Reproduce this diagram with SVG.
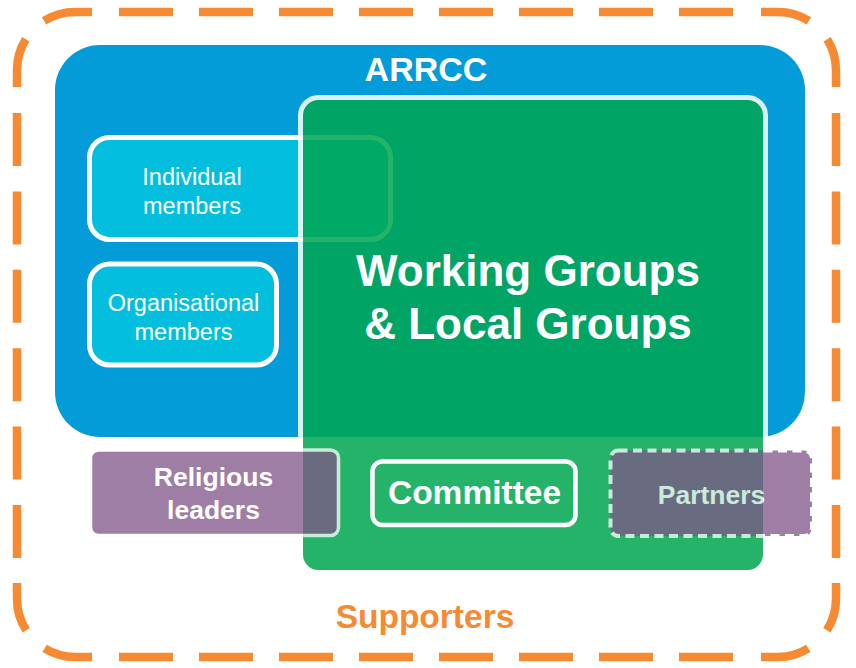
<svg xmlns="http://www.w3.org/2000/svg" width="856" height="668" viewBox="0 0 856 668">
<style>
.t{font-family:"Liberation Sans",Arial,sans-serif;fill:#ffffff;text-anchor:middle}
.b{font-weight:bold}
.orange{fill:none;stroke:#f58a32;stroke-width:8.5}
.mem{fill:#03bfdd;stroke:#ffffff;stroke-width:5}
</style>
<rect width="856" height="668" fill="#ffffff"/>
<g id="arrcc">
<rect x="55" y="45" width="750" height="392" rx="45" fill="#039cd8"/>
<text class="t b" x="426" y="81" font-size="34">ARRCC</text>
</g>
<g id="individual">
<rect class="mem" x="89.5" y="137.5" width="301" height="102" rx="20"/>
<text class="t" x="192" y="185" font-size="23.5">Individual</text>
<text class="t" x="192" y="213.5" font-size="23.5">members</text>
</g>
<g id="organisational">
<rect class="mem" x="89.5" y="264" width="187" height="101" rx="20"/>
<text class="t" x="183.5" y="311" font-size="23.5">Organisational</text>
<text class="t" x="183.5" y="339.5" font-size="23.5">members</text>
</g>
<g id="groups">
<rect x="300.5" y="97.5" width="465" height="475" rx="18" fill="#00a651" stroke="#ffffff" stroke-width="5" opacity="0.85"/>
<text class="t b" x="528" y="286" font-size="44">Working Groups</text>
<text class="t b" x="528" y="339" font-size="44">&amp; Local Groups</text>
</g>
<g id="committee">
<rect x="372.5" y="461.5" width="203" height="63.5" rx="10" fill="none" stroke="#ffffff" stroke-width="4.5"/>
<text class="t b" x="474.5" y="504" font-size="33.5">Committee</text>
</g>
<g id="religious" opacity="0.75">
<rect x="90.5" y="450" width="248" height="85.5" rx="8" fill="#805488" stroke="#ffffff" stroke-width="3.5"/>
<text class="t b" x="213.5" y="486" font-size="26.5">Religious</text>
<text class="t b" x="213.5" y="519" font-size="26.5">leaders</text>
</g>
<g id="partners" opacity="0.75">
<rect x="610.5" y="450.5" width="201.5" height="85.5" rx="8" fill="#805488" stroke="#ffffff" stroke-width="4" stroke-dasharray="9 5.5"/>
<text class="t b" x="711.5" y="504" font-size="26.5">Partners</text>
</g>
<g id="supporters">
<path class="orange" d="M119 12 H735" stroke-dasharray="54 26"/>
<path class="orange" d="M119 657 H735" stroke-dasharray="54 26"/>
<path class="orange" d="M17 113 V558" stroke-dasharray="53 25.4"/>
<path class="orange" d="M836 113 V558" stroke-dasharray="53 25.4"/>
<path class="orange" d="M92 12 H75 A58 58 0 0 0 17 70 V87" stroke-dasharray="49.55 26 60"/>
<path class="orange" d="M761 12 H778 A58 58 0 0 1 836 70 V87" stroke-dasharray="49.55 26 60"/>
<path class="orange" d="M17 583 V599 A58 58 0 0 0 75 657 H92" stroke-dasharray="49.05 26 60"/>
<path class="orange" d="M836 583 V599 A58 58 0 0 1 778 657 H761" stroke-dasharray="49.05 26 60"/>
<text class="t b" x="425" y="628" font-size="33.5" style="fill:#f58a32">Supporters</text>
</g>
</svg>
